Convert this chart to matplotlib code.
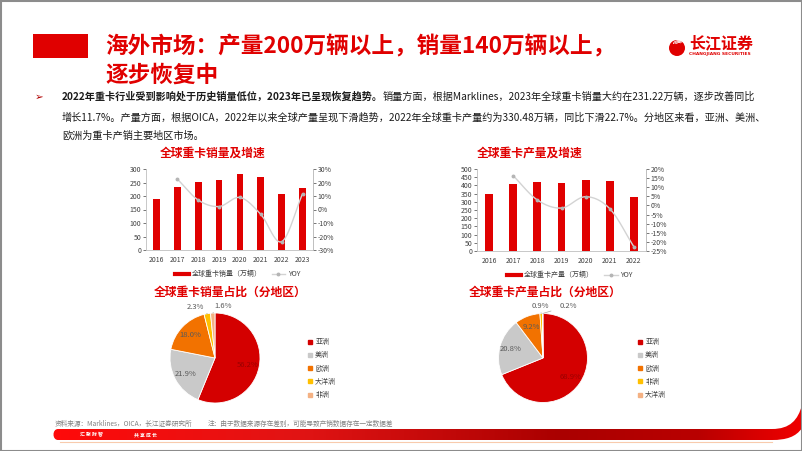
import numpy as np
import matplotlib
matplotlib.use('Agg')
import matplotlib.pyplot as plt
from matplotlib.lines import Line2D
from matplotlib.patches import Rectangle, Circle, PathPatch, Arc
from matplotlib.path import Path

plt.rcParams['font.family'] = ['Noto Sans CJK SC', 'DejaVu Sans']

# ---- data ----
sales_years = ['2016', '2017', '2018', '2019', '2020', '2021', '2022', '2023']
sales_vol = [190, 235, 252, 258, 281, 271, 207, 231.22]        # 万辆
sales_yoy = [np.nan, 22.6, 7.0, 2.2, 8.9, -3.6, -23.8, 11.7]    # %

prod_years = ['2016', '2017', '2018', '2019', '2020', '2021', '2022']
prod_vol = [350, 408, 420, 413, 433, 427, 330.48]               # 万辆
prod_yoy = [np.nan, 16.3, 3.0, -1.4, 4.8, -1.8, -22.7]          # %

sales_regions = ['亚洲', '美洲', '欧洲', '大洋洲', '非洲']
sales_share = [56.2, 21.9, 18.0, 2.3, 1.6]
prod_regions = ['亚洲', '美洲', '欧洲', '非洲', '大洋洲']
prod_share = [68.9, 20.8, 9.2, 0.9, 0.2]

W, H = 802, 451
RED = '#E00000'
PIE_COLORS = ['#D40000', '#C9C9C9', '#F27200', '#FFC000', '#F4B183']

fig = plt.figure(figsize=(W / 100, H / 100), dpi=100)
fig.patch.set_facecolor('white')


def fx(x):
    return x / W


def fy(y):
    return 1 - y / H


def rect(left, top, right, bottom):
    return [fx(left), fy(bottom), (right - left) / W, (bottom - top) / H]


def smooth(xs, ys, n=24):
    # catmull-rom, close to excel's smoothed line
    x = np.asarray(xs, float)
    y = np.asarray(ys, float)
    px = np.concatenate([[2 * x[0] - x[1]], x, [2 * x[-1] - x[-2]]])
    py = np.concatenate([[2 * y[0] - y[1]], y, [2 * y[-1] - y[-2]]])
    t = np.linspace(0, 1, n)
    out_x, out_y = [], []
    for i in range(1, len(px) - 2):
        for arr, out in ((px, out_x), (py, out_y)):
            p0, p1, p2, p3 = arr[i - 1:i + 3]
            out.append(0.5 * (2 * p1 + (-p0 + p2) * t
                              + (2 * p0 - 5 * p1 + 4 * p2 - p3) * t ** 2
                              + (-p0 + 3 * p1 - 3 * p2 + p3) * t ** 3))
    return np.concatenate(out_x), np.concatenate(out_y)


def bar_chart(box, years, vols, yoy, ymax, ystep, rlim, rstep, title, title_x, leg_label):
    ax = fig.add_axes(rect(*box))
    ax.set_facecolor('none')
    x = np.arange(len(years))
    ax.bar(x, vols, width=0.32, color=RED, zorder=2)
    ax.set_xlim(-0.5, len(years) - 0.5)
    ax.set_ylim(0, ymax)
    ax.set_yticks(np.arange(0, ymax + 1, ystep))
    ax.set_xticks(x, years)
    ax.tick_params(axis='y', labelsize=5, colors='#404040', length=2, width=0.5, pad=1.5)
    ax.tick_params(axis='x', labelsize=5, colors='#404040', length=0, pad=4)
    for s in ['left', 'bottom', 'right']:
        ax.spines[s].set_color('#BFBFBF')
        ax.spines[s].set_linewidth(0.6)
    ax.spines['top'].set_visible(False)

    axr = ax.twinx()
    yoy = np.asarray(yoy, float)
    m = ~np.isnan(yoy)
    sx, sy = smooth(x[m], yoy[m])
    axr.plot(sx, sy, color='#D3D3D3', lw=1, zorder=3)
    axr.plot(x[m], yoy[m], 'o', ms=1.8, color='#B5B5B5', zorder=4)
    axr.set_ylim(*rlim)
    rt = np.arange(rlim[0], rlim[1] + 0.1, rstep)
    axr.set_yticks(rt, [f'{int(v)}%' for v in rt])
    axr.tick_params(labelsize=5, colors='#404040', length=2, width=0.5, pad=1.5)
    for s in ['top', 'left', 'bottom']:
        axr.spines[s].set_visible(False)
    axr.spines['right'].set_color('#BFBFBF')
    axr.spines['right'].set_linewidth(0.6)

    fig.text(fx(title_x), fy(153), title, color=RED, fontsize=8.5, weight='bold',
             ha='center', va='center')
    handles = [Line2D([], [], color=RED, lw=3),
               Line2D([], [], color='#D3D3D3', lw=1, marker='o', ms=1.8,
                      markerfacecolor='#B5B5B5', markeredgecolor='#B5B5B5')]
    ax.legend(handles, [leg_label, 'YOY'], loc='upper center', bbox_to_anchor=(0.55, -0.17),
              ncol=2, frameon=False, fontsize=5, handlelength=2.0, columnspacing=1.4,
              handletextpad=0.4, labelcolor='#404040')


def pie_chart(center, radius, shares, regions, title, title_x, leg_x, outer_pos):
    cx, cy = center
    ax = fig.add_axes(rect(cx - radius, cy - radius, cx + radius, cy + radius))
    wedges, _, autotexts = ax.pie(shares, colors=PIE_COLORS, startangle=90, counterclock=False,
                                  autopct='%.1f%%', pctdistance=0.75,
                                  wedgeprops=dict(edgecolor='white', linewidth=0.6),
                                  textprops=dict(fontsize=5.5, color='#595959'))
    ax.set_xlim(-1, 1)
    ax.set_ylim(-1, 1)
    ax.set_aspect('equal')
    autotexts[0].set_color('#9A0000')
    # small slices get outside labels with leader lines
    for i, (tx, ty) in outer_pos.items():
        w = wedges[i]
        ang = np.deg2rad((w.theta1 + w.theta2) / 2)
        autotexts[i].set_visible(False)
        ax.annotate(f'{shares[i]:.1f}%', xy=(np.cos(ang), np.sin(ang)), xytext=(tx, ty),
                    fontsize=5.5, color='#595959', ha='center', va='center',
                    arrowprops=dict(arrowstyle='-', color='#A6A6A6', lw=0.5,
                                    shrinkA=4, shrinkB=0))
    fig.text(fx(title_x), fy(292), title, color=RED, fontsize=8.5, weight='bold',
             ha='center', va='center')
    handles = [Line2D([], [], ls='', marker='s', ms=2.5, color=c) for c in PIE_COLORS]
    fig.legend(handles, regions, loc='upper left', bbox_to_anchor=(fx(leg_x), fy(332)),
               frameon=False, fontsize=5, handlelength=0.6, handletextpad=0.4,
               labelspacing=0.75, labelcolor='#404040')


bar_chart((146, 169, 313, 250), sales_years, sales_vol, sales_yoy, 300, 50, (-30, 30), 10,
          '全球重卡销量及增速', 213, '全球重卡销量（万辆）')
bar_chart((477, 169, 646, 251), prod_years, prod_vol, prod_yoy, 500, 50, (-25, 20), 5,
          '全球重卡产量及增速', 530, '全球重卡产量（万辆）')

pie_chart((215, 358), 45, sales_share, sales_regions, '全球重卡销量占比（分地区）', 230, 302,
          {3: (-0.44, 1.13), 4: (0.18, 1.16)})
pie_chart((543, 358), 44.5, prod_share, prod_regions, '全球重卡产量占比（分地区）', 545, 632,
          {3: (-0.07, 1.17), 4: (0.56, 1.17)})

# ---- header ----
bg = fig.add_axes([0, 0, 1, 1])
bg.set_xlim(0, W)
bg.set_ylim(H, 0)
bg.axis('off')
bg.set_zorder(-5)

bg.add_patch(Rectangle((33, 34), 55, 24, color=RED, lw=0))
fig.text(fx(105), fy(47), '海外市场：产量200万辆以上，销量140万辆以上，', color=RED,
         fontsize=16.3, weight='bold', va='center')
fig.text(fx(105), fy(75), '逐步恢复中', color=RED, fontsize=16.3, weight='bold', va='center')

# logo
bg.add_patch(Circle((677, 48), 8, color=RED, lw=0))
for r in (3, 5, 7):
    bg.add_patch(Arc((679, 44), r * 1.6, r, theta1=180, theta2=330, color='white', lw=0.6))
fig.text(fx(689), fy(43), '长江证券', color=RED, fontsize=11.5, weight='bold', va='center')
fig.text(fx(689), fy(54), 'CHANGJIANG SECURITIES', color=RED, fontsize=3.2, weight='bold',
         va='center', family='DejaVu Sans')

# ---- body text ----
fig.text(fx(35), fy(97), '➢', fontsize=7.5, color='#B00000', va='center',
         family=['DejaVu Sans'])
fs = 7.3
t_bold = fig.text(fx(62), fy(97), '2022年重卡行业受到影响处于历史销量低位，2023年已呈现恢复趋势。',
                  fontsize=fs, weight='bold', va='center', color='#1A1A1A')
renderer = fig.canvas.get_renderer()
bb = t_bold.get_window_extent(renderer)
fig.text(bb.x1 / W, fy(97), '销量方面，根据Marklines，2023年全球重卡销量大约在231.22万辆，逐步改善同比',
         fontsize=fs, va='center', color='#1A1A1A')
fig.text(fx(62), fy(117), '增长11.7%。产量方面，根据OICA，2022年以来全球产量呈现下滑趋势，'
         '2022年全球重卡产量约为330.48万辆，同比下滑22.7%。分地区来看，亚洲、美洲、',
         fontsize=fs, va='center', color='#1A1A1A')
fig.text(fx(62), fy(136), '欧洲为重卡产销主要地区市场。', fontsize=fs, va='center', color='#1A1A1A')

# ---- footer ----
fig.text(fx(55), fy(424), '资料来源：Marklines，OICA，长江证券研究所', fontsize=4.8,
         color='#808080', va='center')
fig.text(fx(208), fy(424), '注：由于数据来源存在差别，可能导致产销数据存在一定数据差', fontsize=4.8,
         color='#808080', va='center')

verts = [(58, 429), (772, 429), (790, 429), (798, 420), (802, 405),
         (802, 428), (796, 437), (786, 440), (772, 440),
         (58, 440), (52, 440), (52, 429), (58, 429)]
codes = [Path.MOVETO, Path.LINETO, Path.CURVE4, Path.CURVE4, Path.CURVE4,
         Path.LINETO, Path.CURVE4, Path.CURVE4, Path.CURVE4,
         Path.LINETO, Path.CURVE4, Path.CURVE4, Path.CURVE4]
band = PathPatch(Path(verts, codes), facecolor='none', edgecolor='none')
bg.add_patch(band)
stops_x = [52, 300, 560, 700, 802]
stops_c = np.array([[255, 10, 10], [225, 20, 20], [170, 0, 0], [185, 0, 0], [240, 0, 0]]) / 255
gx = np.linspace(52, 802, 400)
grad = np.stack([np.interp(gx, stops_x, stops_c[:, k]) for k in range(3)], axis=-1)[None, :, :]
im = bg.imshow(grad, extent=(52, 802, 441, 404), aspect='auto', zorder=1)
im.set_clip_path(band)
bg.set_xlim(0, W)
bg.set_ylim(H, 0)
bg.plot([60, 772], [441.5, 441.5], color='#F8CBAD', lw=0.8)
fig.text(fx(80), fy(434.5), '汇 聚 财 智', fontsize=3.5, color='white', va='center', weight='bold')
fig.text(fx(134), fy(434.5), '共 享 成 长', fontsize=3.5, color='white', va='center', weight='bold')

bg.add_patch(Rectangle((0.5, 0.5), W - 1, H - 1, fill=False, edgecolor='#8C8C8C', lw=1.5))

fig.savefig('out.png', dpi=100)
